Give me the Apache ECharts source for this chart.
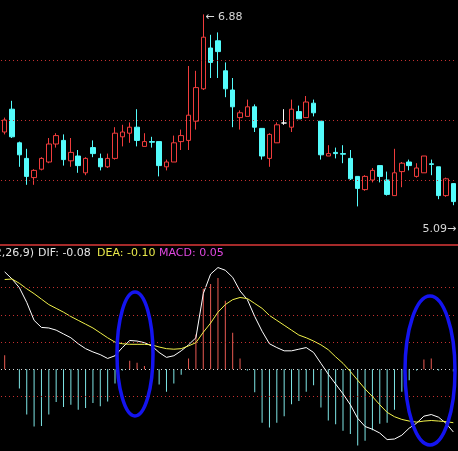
<!DOCTYPE html>
<html><head><meta charset="utf-8">
<script src="https://cdn.jsdelivr.net/npm/echarts@6/dist/echarts.min.js"></script>
<style>html,body{margin:0;padding:0;background:#000;}#c{width:458px;height:451px;}</style>
</head><body><div id="c"></div>
<script>
// ---- data ----
const days = ['1','2','3','4','5','6','7','8','9','10','11','12','13','14','15','16','17','18','19','20',
  '21','22','23','24','25','26','27','28','29','30','31','32','33','34','35','36','37','38','39','40',
  '41','42','43','44','45','46','47','48','49','50','51','52','53','54','55','56','57','58','59','60','61','62'];
const opens = [5.90, 6.09, 5.81, 5.68, 5.52, 5.59, 5.65, 5.80, 5.83, 5.66, 5.70, 5.56, 5.77, 5.68, 5.61, 5.68, 5.86, 5.89, 5.94, 5.78,
  5.82, 5.82, 5.61, 5.65, 5.82, 5.83, 5.99, 6.26, 6.60, 6.66, 6.41, 6.25, 6.02, 6.03, 6.11, 5.93, 5.68, 5.81, 5.975, 5.94,
  6.07, 6.02, 6.14, 5.99, 5.70, 5.73, 5.72, 5.68, 5.53, 5.42, 5.50, 5.62, 5.50, 5.37, 5.57, 5.65, 5.53, 5.56, 5.635, 5.61, 5.37, 5.47];
const closes = [6.00, 5.86, 5.71, 5.53, 5.58, 5.68, 5.80, 5.87, 5.67, 5.73, 5.62, 5.68, 5.72, 5.61, 5.68, 5.89, 5.90, 5.94, 5.83, 5.82,
  5.815, 5.62, 5.65, 5.81, 5.87, 6.04, 6.27, 6.69, 6.48, 6.57, 6.26, 6.11, 6.06, 6.11, 5.94, 5.70, 5.88, 5.96, 5.975, 6.09,
  6.01, 6.15, 6.06, 5.71, 5.72, 5.72, 5.715, 5.51, 5.43, 5.53, 5.58, 5.53, 5.38, 5.56, 5.64, 5.62, 5.60, 5.70, 5.63, 5.37, 5.51, 5.32];
const lows = [5.88, 5.85, 5.61, 5.46, 5.46, 5.58, 5.64, 5.77, 5.62, 5.61, 5.56, 5.54, 5.69, 5.58, 5.60, 5.67, 5.78, 5.81, 5.78, 5.78,
  5.77, 5.53, 5.58, 5.65, 5.75, 5.75, 5.92, 6.25, 6.35, 6.35, 6.19, 5.94, 5.92, 6.03, 5.90, 5.67, 5.61, 5.81, 5.96, 5.90,
  6.01, 6.02, 6.03, 5.67, 5.70, 5.68, 5.64, 5.50, 5.28, 5.41, 5.48, 5.48, 5.37, 5.37, 5.44, 5.58, 5.52, 5.56, 5.54, 5.34, 5.36, 5.29];
const highs = [6.02, 6.16, 5.82, 5.76, 5.59, 5.69, 5.85, 5.89, 5.88, 5.85, 5.75, 5.69, 5.83, 5.72, 5.72, 5.94, 5.96, 5.98, 6.09, 5.89,
  5.86, 5.82, 5.67, 5.87, 5.92, 6.45, 6.41, 6.88, 6.71, 6.73, 6.48, 6.35, 6.08, 6.17, 6.13, 5.93, 5.89, 5.98, 6.09, 6.17,
  6.12, 6.20, 6.17, 5.99, 5.79, 5.77, 5.79, 5.75, 5.53, 5.54, 5.60, 5.62, 5.57, 5.76, 5.65, 5.67, 5.64, 5.70, 5.67, 5.61, 5.52, 5.47];
const dif = [0.179, 0.166, 0.150, 0.123, 0.090, 0.077, 0.076, 0.072, 0.065, 0.058, 0.047, 0.038, 0.032, 0.027, 0.020, 0.025, 0.040, 0.053, 0.052, 0.049,
  0.043, 0.031, 0.022, 0.025, 0.034, 0.045, 0.058, 0.139, 0.175, 0.187, 0.182, 0.169, 0.144, 0.128, 0.097, 0.070, 0.047, 0.040, 0.034, 0.034,
  0.037, 0.040, 0.031, 0.011, -0.009, -0.027, -0.045, -0.065, -0.090, -0.105, -0.110, -0.117, -0.129, -0.128, -0.121, -0.108, -0.099, -0.086, -0.083, -0.088, -0.099, -0.115];
const dea = [0.165, 0.166, 0.158, 0.148, 0.139, 0.129, 0.119, 0.112, 0.105, 0.097, 0.090, 0.083, 0.076, 0.067, 0.058, 0.050, 0.047, 0.046, 0.046, 0.046,
  0.045, 0.041, 0.038, 0.037, 0.038, 0.043, 0.049, 0.068, 0.085, 0.105, 0.119, 0.128, 0.132, 0.130, 0.121, 0.112, 0.099, 0.090, 0.081, 0.072,
  0.063, 0.058, 0.052, 0.045, 0.036, 0.023, 0.011, -0.004, -0.020, -0.036, -0.050, -0.065, -0.079, -0.087, -0.092, -0.095, -0.097, -0.095, -0.094, -0.095, -0.096, -0.098];
const macd = [0.026, 0.000, -0.035, -0.083, -0.105, -0.104, -0.083, -0.060, -0.069, -0.065, -0.074, -0.071, -0.062, -0.068, -0.059, -0.026, -0.002, 0.016, 0.012, 0.006,
  -0.001, -0.028, -0.041, -0.026, -0.010, 0.020, 0.064, 0.148, 0.157, 0.168, 0.126, 0.067, 0.020, -0.002, -0.042, -0.098, -0.107, -0.098, -0.086, -0.064,
  -0.058, -0.041, -0.029, -0.070, -0.094, -0.101, -0.113, -0.119, -0.140, -0.131, -0.112, -0.100, -0.098, -0.074, -0.041, -0.020, -0.002, 0.018, 0.020, -0.002, 0.000, -0.004];
const priceGridLevels = [5.5, 6.0, 6.5];
const macdGridLevels = [0.15, 0.10, 0.05, -0.05];
const highLabel = 6.88, highIndex = 27;
const lowLabel = 5.09;
const headerParam = 'MACD(12,26,9)';
const headerDif = 'DIF: -0.08', headerDea = 'DEA: -0.10', headerMacd = 'MACD: 0.05';

// ---- styles ----
const UP = '#f03c3c', DOWN = '#54fcfc', GRIDRED = '#c43030';
const FONT = '"DejaVu Sans", sans-serif';

const candleData = opens.map((o, i) => {
  const item = { value: [o, closes[i], lows[i], highs[i]] };
  if (o === closes[i]) item.itemStyle = { color: '#fff', color0: '#fff', borderColor: '#fff', borderColor0: '#fff' };
  return item;
});
const barData = macd.map(v => ({ value: v, itemStyle: { color: v >= 0 ? '#ea5a52' : '#7ee6e6' } }));

const chart = echarts.init(document.getElementById('c'), null, { renderer: 'canvas' });
chart.setOption({
  backgroundColor: '#000',
  animation: false,
  grid: [
    { left: 1, right: 1, top: 0, height: 240 },
    { left: 1, right: 1, top: 233.25, height: 222 }
  ],
  xAxis: [
    { type: 'category', data: days, gridIndex: 0, show: false },
    { type: 'category', data: days, gridIndex: 1, show: false }
  ],
  yAxis: [
    { type: 'value', gridIndex: 0, min: 5, max: 7, interval: 0.5, show: false, splitLine: { show: false } },
    { type: 'value', gridIndex: 1, min: -0.15, max: 0.25, interval: 0.05, show: false, splitLine: { show: false } }
  ],
  series: [
    {
      type: 'candlestick', xAxisIndex: 0, yAxisIndex: 0, data: candleData, barWidth: 5,
      itemStyle: { color: '#000', color0: DOWN, borderColor: UP, borderColor0: DOWN, borderWidth: 1 },
      markLine: {
        silent: true, symbol: 'none', label: { show: false },
        lineStyle: { color: GRIDRED, type: [1, 3], width: 1 },
        data: priceGridLevels.map(v => ({ yAxis: v }))
      },
      markPoint: {
        silent: true,
        data: [
          { coord: [highIndex, highLabel], value: highLabel, symbol: 'circle', symbolSize: 0.1,
            itemStyle: { color: 'rgba(0,0,0,0)' },
            label: { show: true, position: 'right', distance: 0, offset: [2, 3], formatter: '\u2190 ' + highLabel.toFixed(2), color: '#d8d8d8', fontSize: 11, fontFamily: FONT } },
          { coord: [days.length - 1, lowLabel], value: lowLabel, symbol: 'circle', symbolSize: 0.1,
            itemStyle: { color: 'rgba(0,0,0,0)' },
            label: { show: true, position: 'left', distance: 0, offset: [3, 0], formatter: lowLabel.toFixed(2) + '\u2192', color: '#d8d8d8', fontSize: 11, fontFamily: FONT } }
        ]
      }
    },
    {
      type: 'bar', xAxisIndex: 1, yAxisIndex: 1, data: barData, barWidth: 1, z: 2,
      markLine: {
        silent: true, symbol: 'none', label: { show: false },
        data: macdGridLevels.map(v => ({ yAxis: v, lineStyle: { color: GRIDRED, type: [1, 3], width: 1 } }))
          .concat([{ yAxis: 0, lineStyle: { color: '#d8d8d8', type: [1, 3], width: 1 } }])
      }
    },
    { type: 'line', xAxisIndex: 1, yAxisIndex: 1, data: dif, showSymbol: false, symbol: 'none', z: 3,
      lineStyle: { color: '#ffffff', width: 1 } },
    { type: 'line', xAxisIndex: 1, yAxisIndex: 1, data: dea, showSymbol: false, symbol: 'none', z: 3,
      lineStyle: { color: '#f2f24a', width: 1 } }
  ],
  graphic: [
    { type: 'line', z: 10, shape: { x1: 0, y1: 245, x2: 458, y2: 245 }, style: { stroke: '#a62a2a', lineWidth: 2 } },
    { type: 'text', z: 10, x: 34, y: 253, style: { text: headerParam, fill: '#e6e6e6', font: '11px ' + FONT, align: 'right', verticalAlign: 'middle' } },
    { type: 'text', z: 10, x: 38, y: 253, style: { text: headerDif, fill: '#e6e6e6', font: '11px ' + FONT, align: 'left', verticalAlign: 'middle' } },
    { type: 'text', z: 10, x: 97, y: 253, style: { text: headerDea, fill: '#e8e84a', font: '11px ' + FONT, align: 'left', verticalAlign: 'middle' } },
    { type: 'text', z: 10, x: 159, y: 253, style: { text: headerMacd, fill: '#e048e0', font: '11px ' + FONT, align: 'left', verticalAlign: 'middle' } },
    { type: 'ellipse', z: 20, shape: { cx: 135, cy: 354, rx: 18, ry: 62 }, style: { fill: 'none', stroke: '#1414f0', lineWidth: 3.5 } },
    { type: 'ellipse', z: 20, shape: { cx: 430, cy: 370.5, rx: 25, ry: 74.5 }, style: { fill: 'none', stroke: '#1414f0', lineWidth: 3.5 } }
  ]
});
</script>
</body></html>
